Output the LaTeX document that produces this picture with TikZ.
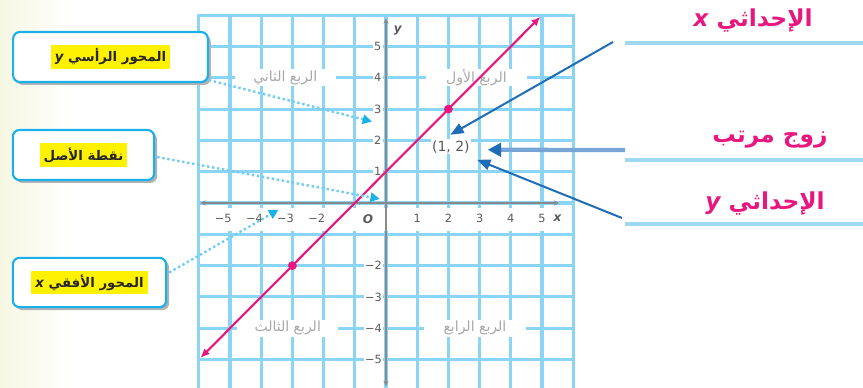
\documentclass[tikz,border=0pt]{standalone}
\usepackage{fontspec}
\setmainfont{DejaVu Sans}
\newfontfamily\arabicfont[Script=Arabic]{DejaVu Sans}
\TeXXeTstate=1
\usetikzlibrary{arrows.meta,calc,shadows}
\definecolor{gridblue}{HTML}{8AD5F5}
\definecolor{axisgray}{HTML}{8A8A8A}
\definecolor{labgray}{HTML}{5A5A5A}
\definecolor{qgray}{HTML}{A8A8A8}
\definecolor{pinkl}{HTML}{E8177F}
\definecolor{boxblue}{HTML}{1AB0EA}
\definecolor{dotblue}{HTML}{72CBF2}
\definecolor{darkblue}{HTML}{1F6CB7}
\definecolor{midblue}{HTML}{76A5D6}
\definecolor{rline}{HTML}{9ED8F2}
\definecolor{hl}{HTML}{FFF200}
\definecolor{cream}{HTML}{F6F7E2}
\begin{document}
\begin{tikzpicture}[x=0.75pt,y=-0.75pt,
  gridline/.style={gridblue, line width=2.3pt},
  axisline/.style={axisgray, line width=1.6pt, {Stealth[length=4pt,width=4pt]}-{Stealth[length=4pt,width=4pt]}},
  ticklab/.style={font=\fontsize{8.5}{9}\selectfont, text=labgray, inner sep=1pt},
  ylab/.style={ticklab, fill=white, anchor=east},
  qlab/.style={fill=white, font=\arabicfont\fontsize{10.5}{12}\selectfont, text=qgray, minimum width=76pt, minimum height=13pt, inner sep=0pt},
  pinkline/.style={pinkl, line width=1.6pt, {Latex[length=7pt,width=6pt]}-{Latex[length=7pt,width=6pt]}},
  infobox/.style={draw=boxblue, line width=1.6pt, rounded corners=5pt, fill=white,
     drop shadow={shadow xshift=2.2pt, shadow yshift=-2.2pt, fill=black!30, opacity=1},
     font=\arabicfont\bfseries\fontsize{10}{11}\selectfont, text=black!85, inner sep=0pt},
  dotconn/.style={dotblue, line width=1.8pt, dotted, -{Triangle[length=7pt,width=7pt,color=boxblue]}},
  bluearrow/.style={darkblue, line width=1.5pt, -{Triangle[length=10pt,width=8pt]}},
  thickarrow/.style={midblue, line width=3.2pt, -{Triangle[length=10pt,width=10pt,color=darkblue]}},
  rightrule/.style={rline, line width=2.6pt},
  pinklab/.style={font=\arabicfont\bfseries\fontsize{17.5}{19}\selectfont, text=pinkl, inner sep=0pt}
]
\useasboundingbox (0,0) rectangle (863,387);
\shade[left color=cream, right color=white] (0,0) rectangle (70,387);

% ---------- coordinate grid ----------
\begin{scope}[shift={(386,203)}, x=23.4pt, y=23.48pt]
  \foreach \i in {-6,...,6} \draw[gridline] (\i,6.04) -- (\i,-5.9);
  \foreach \j in {-5,...,6} \draw[gridline] (-6.03,\j) -- (6.0,\j);
  \fill[white] (-5.85,-0.17) rectangle (5.85,-0.88);
  % quadrant labels
  \node[qlab] (q2) at (-3.23,4) {\beginR الربع الثاني\endR};
  \node[qlab] (q1) at (2.9,4) {\beginR الربع الأول\endR};
  \node[qlab] (q3) at (-3.15,-4) {\beginR الربع الثالث\endR};
  \node[qlab] (q4) at (2.85,-4) {\beginR الربع الرابع\endR};
  % axes
  \draw[axisline] (-5.95,0) -- (5.55,0);
  \draw[axisline] (0,5.9) -- (0,-5.85);
  \node[ticklab, font=\itshape\bfseries\fontsize{9}{9}\selectfont] (xl) at (5.5,-0.5) {x};
  \node[ticklab, font=\itshape\bfseries\fontsize{9}{9}\selectfont, anchor=west] (yl) at (0.2,5.5) {y};
  \foreach \i in {1,...,5} \node[ticklab] (xt\i) at (\i,-0.5) {\i};
  \foreach \i in {2,...,5} \node[ticklab, anchor=east] (xn\i) at (-\i+0.1,-0.5) {−\i};
  \node[ticklab, font=\itshape\bfseries\fontsize{9}{9}\selectfont] (o) at (-0.58,-0.5) {O};
  \foreach \j in {1,...,5} \node[ylab] (yt\j) at (-0.1,\j) {\j};
  \foreach \j in {2,...,5} \node[ylab] (yn\j) at (-0.08,-\j) {−\j};
  % line y = x + 1
  \draw[pinkline] (-5.95,-4.95) -- (4.95,5.95);
  \fill[pinkl] (2,3) circle (3.3pt);
  \fill[pinkl] (-3,-2) circle (3.3pt);
  \node[ticklab, fill=white, font=\fontsize{10.5}{11}\selectfont, text=black!65] (pt) at (2.08,1.8) {(1, 2)};
  % arrow targets
  \coordinate (tY) at (-0.45,2.6);
  \coordinate (tO) at (-0.2,0.13);
  \coordinate (tX) at (-3.45,-0.22);
  \coordinate (tA) at (2.06,2.18);
  \coordinate (tB) at (3.26,1.7);
  \coordinate (tC) at (2.92,1.38);
\end{scope}

% ---------- left boxes ----------
\setlength{\fboxsep}{3pt}
\node[infobox, minimum width=146pt, minimum height=37.5pt] (box1) at (110.5,57)
  {\colorbox{hl}{\beginR المحور الرأسي {\itshape y}\endR}};
\node[infobox, minimum width=106pt, minimum height=37.5pt] (box2) at (83.5,155)
  {\colorbox{hl}{\beginR نقطة الأصل\endR}};
\node[infobox, minimum width=115pt, minimum height=37pt] (box3) at (89.5,282.5)
  {\colorbox{hl}{\beginR المحور الأفقي {\itshape x}\endR}};

\draw[dotconn] ($(box1.south east)+(0,-3)$) -- (tY);
\draw[dotconn] ($(box2.east)+(2,2)$) -- (tO);
\draw[dotconn] ($(box3.east)+(2,-10)$) -- (tX);

% ---------- right labels ----------
\coordinate (r1) at (625,43);
\coordinate (r2) at (625,160);
\coordinate (r3) at (625,224);
\draw[rightrule] (r1) -- (863,43);
\draw[rightrule] (r2) -- (863,160);
\draw[rightrule] (r3) -- (863,224);
\node[pinklab] (lx) at (753,20) {\beginR الإحداثي {\itshape x}\endR};
\node[pinklab] (lp) at (770,140) {\beginR زوج مرتب\endR};
\node[pinklab] (ly) at (765,203) {\beginR الإحداثي {\itshape y}\endR};

\coordinate (sA) at (613,42);
\coordinate (sB) at (625,150);
\coordinate (sC) at (622,218);
\draw[bluearrow] (sA) -- (tA);
\draw[thickarrow] (sB) -- (tB);
\draw[bluearrow] (sC) -- (tC);
\end{tikzpicture}
\end{document}
